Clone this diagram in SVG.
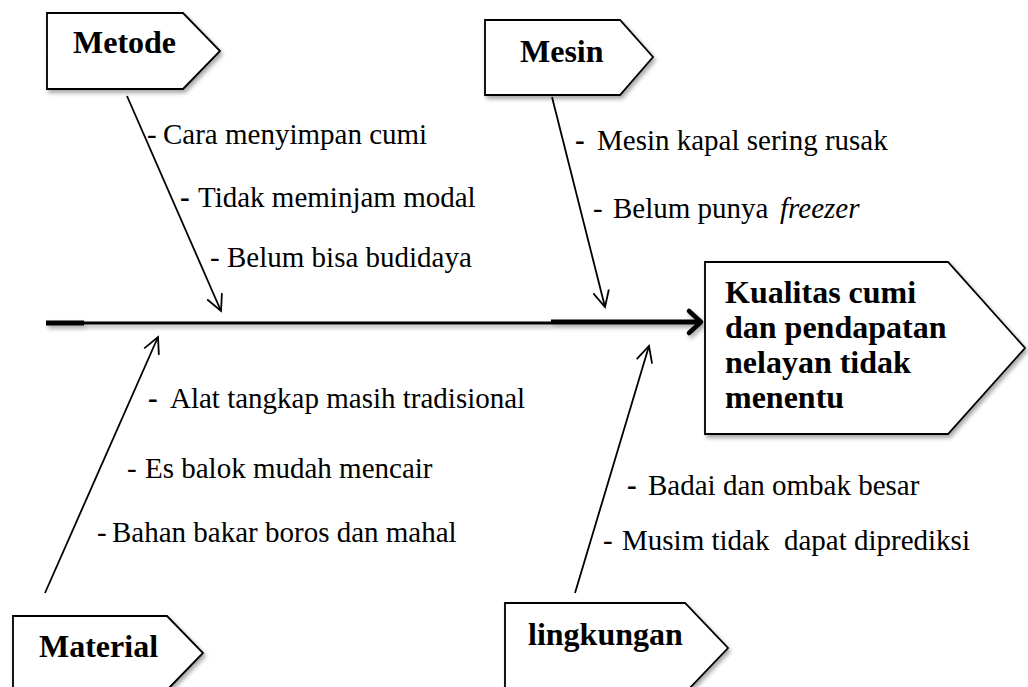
<svg xmlns="http://www.w3.org/2000/svg" width="1028" height="687" viewBox="0 0 1028 687">
  <defs>
    <filter id="sh" filterUnits="userSpaceOnUse" x="0" y="0" width="1028" height="700">
      <feDropShadow dx="2" dy="3" stdDeviation="2" flood-color="#000" flood-opacity="0.35"/>
    </filter>
    <marker id="open" markerUnits="userSpaceOnUse" markerWidth="30" markerHeight="30" refX="0" refY="0" viewBox="-20 -15 30 30" orient="auto">
      <path d="M-16,-8 L0,0 L-16,8" fill="none" stroke="#000" stroke-width="1.8"/>
    </marker>
    <marker id="spineHead" markerUnits="userSpaceOnUse" markerWidth="40" markerHeight="40" refX="0" refY="0" viewBox="-25 -20 40 40" orient="auto">
      <path d="M-12,-11 L0,0 L-12,11" fill="none" stroke="#000" stroke-width="4.5" stroke-linecap="round" stroke-linejoin="round"/>
    </marker>
  </defs>
  <style>
    .box { fill: #fff; stroke: #000; stroke-width: 1.8; filter: url(#sh); }
    .h { font-weight: bold; font-size: 32px; fill: #000; }
    .t { font-size: 29px; fill: #000; }
    .bone { stroke: #000; stroke-width: 1.8; fill: none; marker-end: url(#open); }
  </style>
  <rect width="1028" height="687" fill="#fff"/>

  <!-- connectors: spine and cause bones -->
  <g id="connectors">
    <g filter="url(#sh)">
      <line x1="46" y1="323" x2="84" y2="323" stroke="#000" stroke-width="5"/>
      <line x1="84" y1="323" x2="551" y2="323" stroke="#000" stroke-width="3"/>
      <line x1="551" y1="322" x2="701" y2="322" stroke="#000" stroke-width="5" marker-end="url(#spineHead)"/>
    </g>
    <line class="bone" x1="127" y1="96" x2="221" y2="311"/>
    <line class="bone" x1="552" y1="97" x2="605" y2="307"/>
    <line class="bone" x1="45" y1="593" x2="158" y2="337"/>
    <line class="bone" x1="575" y1="593" x2="649" y2="346"/>
  </g>

  <g font-family="Liberation Serif, Times New Roman, serif">
  <!-- category: Metode -->
  <g id="metode">
    <path class="box" d="M47,13 H183 L220,51 L183,89 H47 Z"/>
    <text class="h" x="73" y="53">Metode</text>
    <text class="t" y="144"><tspan x="147">-</tspan><tspan x="163">Cara menyimpan cumi</tspan></text>
    <text class="t" y="207"><tspan x="180" font-weight="bold">-</tspan><tspan x="198">Tidak meminjam modal</tspan></text>
    <text class="t" y="267"><tspan x="210">-</tspan><tspan x="227">Belum bisa budidaya</tspan></text>
  </g>

  <!-- category: Mesin -->
  <g id="mesin">
    <path class="box" d="M485,20 H620 L653,57 L620,95 H485 Z"/>
    <text class="h" x="520" y="62">Mesin</text>
    <text class="t" y="150"><tspan x="575" font-weight="bold">-</tspan><tspan x="597">Mesin kapal sering rusak</tspan></text>
    <text class="t" y="218"><tspan x="593">-</tspan><tspan x="613">Belum punya</tspan><tspan x="780" font-style="italic">freezer</tspan></text>
  </g>

  <!-- effect -->
  <g id="effect">
    <path class="box" d="M705,262 H948 L1025,348 L948,434 H705 Z"/>
    <text class="h">
      <tspan x="725" y="303">Kualitas cumi</tspan>
      <tspan x="725" y="338">dan pendapatan</tspan>
      <tspan x="725" y="373">nelayan tidak</tspan>
      <tspan x="725" y="408">menentu</tspan>
    </text>
  </g>

  <!-- category: Material -->
  <g id="material">
    <path class="box" d="M13,616 H167 L203,653 L167,690 H13 Z"/>
    <text class="h" x="39" y="657">Material</text>
    <text class="t" y="408"><tspan x="148" font-weight="bold">-</tspan><tspan x="170">Alat tangkap masih tradisional</tspan></text>
    <text class="t" y="478"><tspan x="127">-</tspan><tspan x="145">Es balok mudah mencair</tspan></text>
    <text class="t" y="542"><tspan x="97">-</tspan><tspan x="112">Bahan bakar boros dan mahal</tspan></text>
  </g>

  <!-- category: lingkungan -->
  <g id="lingkungan">
    <path class="box" d="M505,603 H685 L728,648 L685,693 H505 Z"/>
    <text class="h" x="528" y="645">lingkungan</text>
    <text class="t" y="495"><tspan x="627" font-weight="bold">-</tspan><tspan x="648">Badai dan ombak besar</tspan></text>
    <text class="t" y="550"><tspan x="603">-</tspan><tspan x="622" xml:space="preserve">Musim tidak  dapat diprediksi</tspan></text>
  </g>
  </g>
</svg>
